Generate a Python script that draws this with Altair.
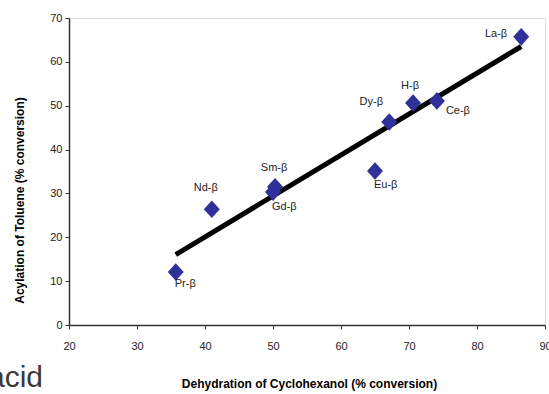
import altair as alt
import pandas as pd

# Catalysts and their activity in the two test reactions
catalysts = ["La-β", "Ce-β", "H-β", "Dy-β", "Eu-β", "Sm-β", "Gd-β", "Nd-β", "Pr-β"]
dehydration = [86.5, 74.1, 70.6, 67.1, 65.0, 50.3, 50.0, 41.0, 35.7]
acylation = [65.7, 51.1, 50.6, 46.3, 35.1, 31.5, 30.3, 26.4, 12.1]

# x / y tick values
x_ticks = [20, 30, 40, 50, 60, 70, 80, 90]
y_ticks = [0, 10, 20, 30, 40, 50, 60, 70]

df = pd.DataFrame({"cat": catalysts, "dehyd": dehydration, "acyl": acylation})

# label placement per catalyst: (dx, dy, align)
label_place = {
    "La-β": (-14, -3, "right"),
    "Ce-β": (9, 10, "left"),
    "H-β": (-3, -17, "center"),
    "Dy-β": (-18, -20, "center"),
    "Eu-β": (-1, 14, "left"),
    "Sm-β": (-1, -19, "center"),
    "Gd-β": (-1, 15, "left"),
    "Nd-β": (-6, -21, "center"),
    "Pr-β": (-1, 12, "left"),
}

FONT = "Liberation Sans"
POINT_COLOR = "#30309a"

x_enc = alt.X(
    "dehyd:Q",
    scale=alt.Scale(domain=[20, 90], nice=False, zero=False),
    axis=alt.Axis(
        values=x_ticks,
        title="Dehydration of Cyclohexanol (% conversion)",
        titleFont=FONT, titleFontSize=12, titleFontWeight="bold", titleColor="#000",
        titleX=240, titleY=58, titleBaseline="middle",
        labelFont=FONT, labelFontSize=11, labelColor="#222",
        labelPadding=11, tickSize=4, tickColor="#333", grid=False,
        domainColor="#333", domainWidth=1.5, labelOverlap=False, labelBound=False,
        labelFlush=False,
    ),
)
y_enc = alt.Y(
    "acyl:Q",
    scale=alt.Scale(domain=[0, 70], nice=False, zero=True),
    axis=alt.Axis(
        values=y_ticks,
        title="Acylation of Toluene (% conversion)",
        titleFont=FONT, titleFontSize=12, titleFontWeight="bold", titleColor="#000",
        titleX=-50, titleY=182, titleBaseline="middle", titleAlign="center",
        labelFont=FONT, labelFontSize=11, labelColor="#222",
        labelPadding=3, tickSize=4, tickColor="#333", grid=False,
        domainColor="#333", domainWidth=1.5, labelOverlap=False,
    ),
)

base = alt.Chart(df)

trend = base.transform_regression("dehyd", "acyl").mark_line(
    color="black", strokeWidth=5, strokeCap="butt"
).encode(x=x_enc, y=y_enc)

points = base.mark_point(
    shape="M0,-1.1L1,0L0,1.1L-1,0Z", size=256, filled=True, opacity=1,
    color=POINT_COLOR, strokeWidth=0,
).encode(x="dehyd:Q", y="acyl:Q")

labels = []
for name, (dx, dy, align) in label_place.items():
    labels.append(
        base.transform_filter(alt.datum.cat == name).mark_text(
            dx=dx, dy=dy, align=align, baseline="middle",
            font=FONT, fontSize=11, color="#222",
        ).encode(x="dehyd:Q", y="acyl:Q", text="cat:N")
    )

side_text = alt.Chart(pd.DataFrame({"t": ["acid"]})).mark_text(
    align="right", baseline="alphabetic", font=FONT, fontSize=30, color="#3a3a3a"
).encode(x=alt.value(-26), y=alt.value(369), text="t:N")

chart = alt.layer(trend, points, *labels, side_text).properties(
    width=476,
    height=307,
    autosize=alt.AutoSizeParams(type="none"),
    padding={"left": 69, "top": 18, "right": 4, "bottom": 69},
).configure_view(stroke="#9a9a9a", strokeWidth=2).configure(background="white")

chart.save("out.html", embed_options={"renderer": "svg", "actions": False})
